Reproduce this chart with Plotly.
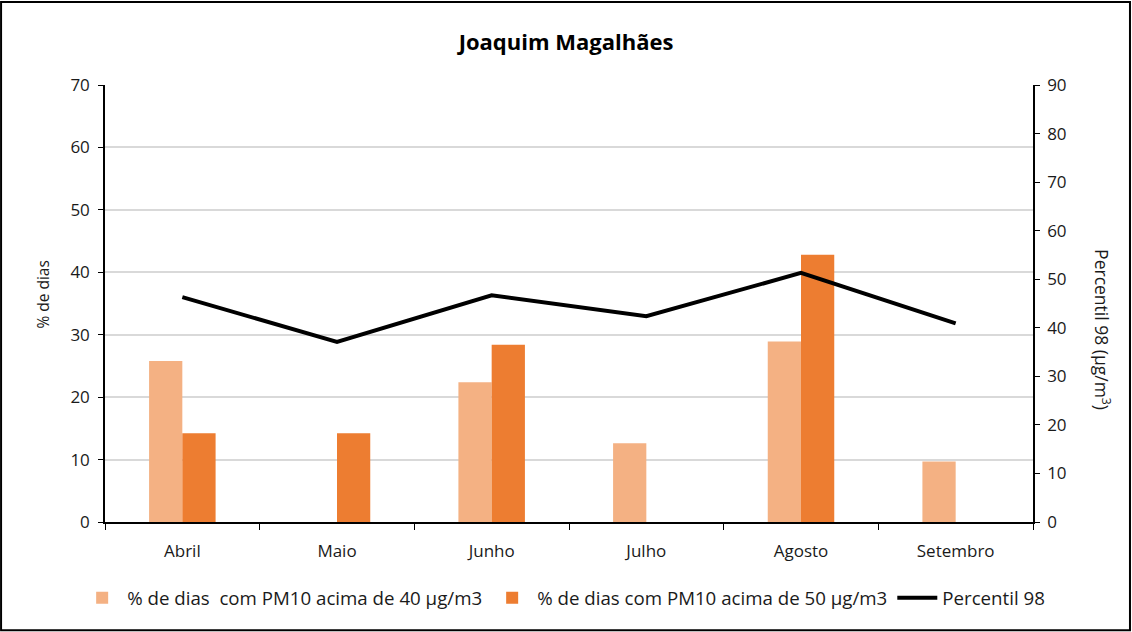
import plotly.graph_objects as go

months = ["Abril", "Maio", "Junho", "Julho", "Agosto", "Setembro"]
pct40 = [25.8, 0, 22.4, 12.6, 28.9, 9.7]
pct50 = [14.2, 14.2, 28.4, 0, 42.8, 0]
p98 = [46.3, 37.1, 46.7, 42.4, 51.3, 40.9]

name40 = "% de dias  com PM10 acima de 40 µg/m3"
name50 = "% de dias com PM10 acima de 50 µg/m3"
name98 = "Percentil 98"

FONT = "Open Sans, Lato, sans-serif"
TXT = "#1a1a1a"

fig = go.Figure()
fig.add_trace(go.Bar(x=months, y=pct40, name=name40, marker_color="#F4B183",
                     marker_line_width=0))
fig.add_trace(go.Bar(x=months, y=pct50, name=name50, marker_color="#ED7D31",
                     marker_line_width=0))
fig.add_trace(go.Scatter(x=months, y=p98, name=name98, yaxis="y2", mode="lines",
                         line=dict(color="black", width=4)))

fig.update_layout(
    width=1132, height=632,
    paper_bgcolor="white", plot_bgcolor="white",
    margin=dict(l=105, r=99, t=85, b=110, autoexpand=False),
    font=dict(family=FONT, size=17, color=TXT),
    title=dict(text="<b>Joaquim Magalhães</b>", x=0.5, xanchor="center",
               y=0.9335, yanchor="middle", font=dict(size=22, color="black")),
    barmode="group", bargap=0.57, bargroupgap=0,
    showlegend=True,
    legend=dict(orientation="h", x=-0.03, xanchor="left", y=-0.174, yanchor="middle",
                font=dict(size=18.7, color=TXT), itemwidth=40, traceorder="normal",
                tracegroupgap=0),
    xaxis=dict(type="category", showline=True, linecolor="black", linewidth=1.5,
               ticks="outside", tickson="boundaries", ticklen=6, tickcolor="black",
               showgrid=False, tickfont=dict(size=17), ticklabelstandoff=13),
    yaxis=dict(range=[0, 70], dtick=10, showline=True, linecolor="black", linewidth=1.5,
               ticks="outside", ticklen=5, tickcolor="black",
               gridcolor="#d9d9d9", gridwidth=1.5, zeroline=False,
               tickfont=dict(size=17), ticklabelstandoff=5),
    yaxis2=dict(range=[0, 90], dtick=10, overlaying="y", side="right",
                showline=True, linecolor="black", linewidth=1.5,
                ticks="outside", ticklen=5, tickcolor="black",
                showgrid=False, zeroline=False, tickfont=dict(size=17),
                ticklabelstandoff=4),
)

fig.add_annotation(text="% de dias", textangle=-90,
                   xref="paper", yref="paper", x=-0.067, y=0.52,
                   xanchor="center", yanchor="middle", showarrow=False,
                   font=dict(size=15.5, color=TXT))
fig.add_annotation(text="Percentil 98 (µg/m<sup>3</sup>)", textangle=90,
                   xref="paper", yref="paper", x=1.075, y=0.44,
                   xanchor="center", yanchor="middle", showarrow=False,
                   font=dict(size=17.5, color=TXT))

fig.add_shape(type="rect", xref="paper", yref="paper",
              x0=-0.112, x1=1.1045, y0=-0.2475, y1=1.19,
              line=dict(color="black", width=2), fillcolor="rgba(0,0,0,0)")

fig.write_html("out.html", config={"displayModeBar": False},
               post_script="document.body.style.margin='0px';")
